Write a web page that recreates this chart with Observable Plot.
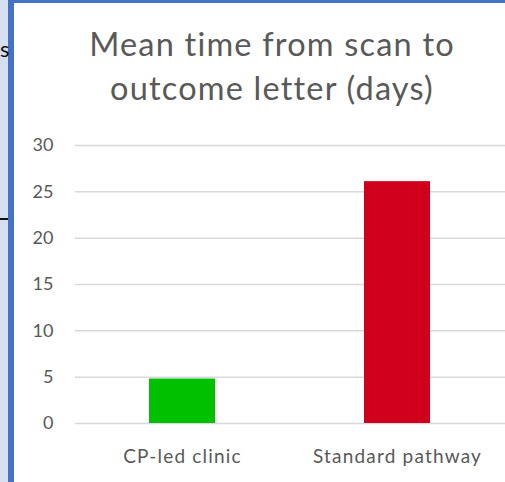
<!DOCTYPE html>
<html>
<head>
<meta charset="utf-8">
<script src="https://cdn.jsdelivr.net/npm/d3@7"></script>
<script src="https://cdn.jsdelivr.net/npm/@observablehq/plot@0.6"></script>
<style>
  html, body { margin: 0; padding: 0; background: #fff; }
  #wrap { position: relative; width: 505px; height: 482px; overflow: hidden; background: #fff; font-family: Lato, "Open Sans", sans-serif; }
  #strip { position: absolute; left: 0; top: 0; width: 8px; height: 482px; background: #d6dff0; }
  #bl { position: absolute; left: 8px; top: 0; width: 6px; height: 482px; background: #4472c4; }
  #bt { position: absolute; left: 8px; top: 0; width: 497px; height: 3px; background: #4472c4; }
  #dash { position: absolute; left: 0; top: 218px; width: 8px; height: 2px; background: #111; }
  #s { position: absolute; left: 0px; top: 34px; font-size: 22px; color: #111; line-height: 30px; }
  .t { position: absolute; left: 72px; width: 400px; text-align: center; color: #595959; font-size: 32.5px; letter-spacing: 1.2px; white-space: nowrap; }
  #chart { position: absolute; left: 15px; top: 125px; }
  #chart g[aria-label="x-axis tick label"] text { letter-spacing: 1.2px; }
</style>
</head>
<body>
<div id="wrap">
  <div id="strip"></div>
  <div id="bl"></div>
  <div id="bt"></div>
  <div id="s">s</div>
  <div id="dash"></div>
  <div class="t" id="t1" style="top:22px;line-height:44px;">Mean time from scan to</div>
  <div class="t" id="t2" style="top:66px;line-height:44px;">outcome letter (days)</div>
  <div id="chart"></div>
</div>
<script>
const categories = ["CP-led clinic", "Standard pathway"];
const values = [4.8, 26.1];
const colors = ["#00c000", "#d0001c"];
const yTicks = [0, 5, 10, 15, 20, 25, 30];

const data = categories.map((c, i) => ({category: c, value: values[i], color: colors[i]}));

const plot = Plot.plot({
  width: 490,
  height: 357,
  marginLeft: 60,
  marginRight: 0,
  marginTop: 20,
  marginBottom: 59,
  style: {fontFamily: "Lato, 'Open Sans', sans-serif", color: "#595959", background: "transparent"},
  x: {domain: categories, paddingInner: 0.693, paddingOuter: 0.3465, label: null},
  y: {domain: [0, 30], ticks: yTicks, label: null},
  marks: [
    Plot.gridY(yTicks, {stroke: "#d9d9d9", strokeOpacity: 1, strokeWidth: 1.5}),
    Plot.barY(data, {x: "category", y: "value", fill: "color"}),
    Plot.axisY({ticks: yTicks, tickSize: 0, tickPadding: 22, fontSize: 18, fill: "#595959", label: null}),
    Plot.axisX({tickSize: 0, tickPadding: 26, fontSize: 19, fill: "#595959", label: null})
  ]
});
document.getElementById("chart").appendChild(plot);
</script>
</body>
</html>
